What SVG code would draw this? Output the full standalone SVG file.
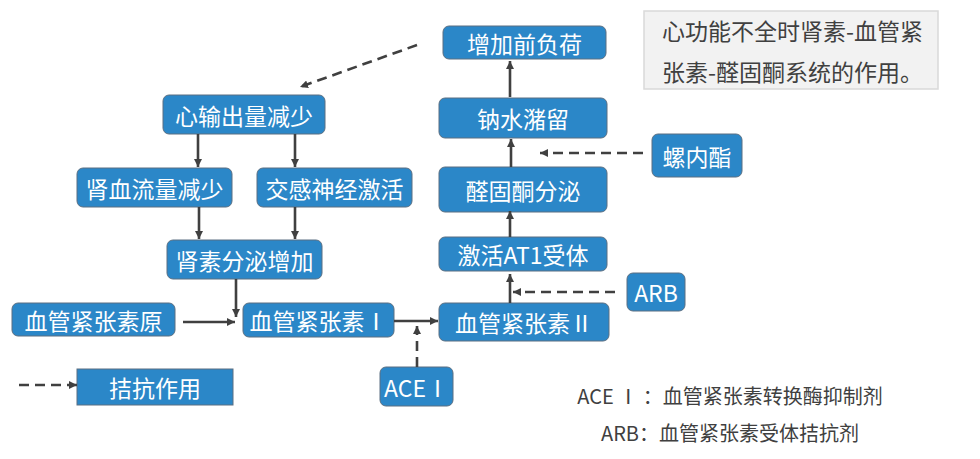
<svg xmlns="http://www.w3.org/2000/svg" width="980" height="459" viewBox="0 0 980 459">
<defs>
<marker id="ah" viewBox="0 0 10 10" refX="10" refY="5" markerWidth="8" markerHeight="8" markerUnits="userSpaceOnUse" orient="auto">
<path d="M0,0 L10,5 L0,10 z" fill="#404040"/>
</marker>
<style>
.nd{fill:#2b87c8;stroke:#5b6f82;stroke-width:1}
.nt{fill:#ffffff;font-family:"Noto Sans CJK SC","Microsoft YaHei",sans-serif;font-size:23px;text-anchor:middle;dominant-baseline:central}
.ln{stroke:#404040;stroke-width:2.6;fill:none;marker-end:url(#ah)}
.ds{stroke-dasharray:10 6}
.gt{fill:#404040;font-family:"Noto Sans CJK SC","Microsoft YaHei",sans-serif}
</style>
</defs>
<rect width="980" height="459" fill="#ffffff"/>
<g id="info">
<rect x="644" y="11" width="294" height="78" fill="#f2f2f2" stroke="#d9d9d9" stroke-width="1.5"/>
<text class="gt" x="662" y="40" font-size="23">心功能不全时肾素-血管紧</text>
<text class="gt" x="662" y="81" font-size="23">张素-醛固酮系统的作用。</text>
</g>
<g id="n-preload"><rect class="nd" x="443" y="26" width="163" height="33" rx="6"/><text class="nt" x="524.5" y="42.5">增加前负荷</text></g>
<g id="n-na"><rect class="nd" x="439" y="98" width="168" height="40" rx="6"/><text class="nt" x="523" y="118">钠水潴留</text></g>
<g id="n-ald"><rect class="nd" x="439" y="167" width="168" height="45" rx="6"/><text class="nt" x="523" y="189.5">醛固酮分泌</text></g>
<g id="n-at1"><rect class="nd" x="439" y="237" width="168" height="34" rx="6"/><text class="nt" x="523" y="254">激活AT1受体</text></g>
<g id="n-ang2"><rect class="nd" x="439" y="303" width="170" height="38" rx="6"/><text class="nt" x="524" y="322">血管紧张素Ⅱ</text></g>
<g id="n-arb"><rect class="nd" x="627" y="273" width="58" height="38" rx="6"/><text class="nt" x="656" y="292">ARB</text></g>
<g id="n-spiro"><rect class="nd" x="652" y="134" width="90" height="43" rx="6"/><text class="nt" x="697" y="155.5">螺内酯</text></g>
<g id="n-co"><rect class="nd" x="163" y="95" width="162" height="39" rx="6"/><text class="nt" x="244" y="114.5">心输出量减少</text></g>
<g id="n-rbf"><rect class="nd" x="77" y="168" width="155" height="39" rx="6"/><text class="nt" x="154.5" y="187.5">肾血流量减少</text></g>
<g id="n-sym"><rect class="nd" x="257" y="168" width="155" height="39" rx="6"/><text class="nt" x="334.5" y="187.5">交感神经激活</text></g>
<g id="n-renin"><rect class="nd" x="167" y="240" width="155" height="39" rx="6"/><text class="nt" x="244.5" y="259.5">肾素分泌增加</text></g>
<g id="n-agt"><rect class="nd" x="12" y="303" width="163" height="33" rx="6"/><text class="nt" x="93.5" y="319.5">血管紧张素原</text></g>
<g id="n-ang1"><rect class="nd" x="243" y="303" width="151" height="34" rx="6"/><text class="nt" x="318.5" y="320">血管紧张素Ⅰ</text></g>
<g id="n-acei"><rect class="nd" x="380" y="367" width="73" height="39" rx="6"/><text class="nt" x="416.5" y="386.5">ACEⅠ</text></g>
<g id="n-legend"><rect class="nd" x="77" y="369" width="156" height="36"/><text class="nt" x="155" y="387">拮抗作用</text></g>
<g id="connectors">
<line class="ln" x1="510" y1="97" x2="510" y2="61"/>
<line class="ln" x1="511" y1="167" x2="511" y2="139"/>
<line class="ln" x1="510" y1="237" x2="510" y2="211"/>
<line class="ln" x1="510" y1="303" x2="510" y2="274"/>
<line class="ln ds" x1="643" y1="153" x2="540" y2="153"/>
<line class="ln ds" x1="615" y1="292" x2="513" y2="292"/>
<line class="ln ds" x1="417" y1="45" x2="300" y2="87"/>
<line class="ln" x1="198" y1="134" x2="198" y2="167"/>
<line class="ln" x1="295" y1="134" x2="295" y2="167"/>
<line class="ln" x1="199" y1="207" x2="199" y2="239"/>
<line class="ln" x1="295" y1="207" x2="295" y2="239"/>
<line class="ln" x1="236" y1="279" x2="236" y2="317"/>
<line class="ln" x1="183" y1="322" x2="235" y2="322"/>
<line class="ln" x1="394" y1="321" x2="438" y2="321"/>
<line class="ln ds" x1="417" y1="367" x2="417" y2="326"/>
<line class="ln ds" x1="19" y1="385" x2="77" y2="385"/>
</g>
<g id="notes">
<text class="gt" x="730" y="404" font-size="20" text-anchor="middle">ACE Ⅰ ：血管紧张素转换酶抑制剂</text>
<text class="gt" x="730" y="441" font-size="20" text-anchor="middle">ARB：血管紧张素受体拮抗剂</text>
</g>
</svg>
